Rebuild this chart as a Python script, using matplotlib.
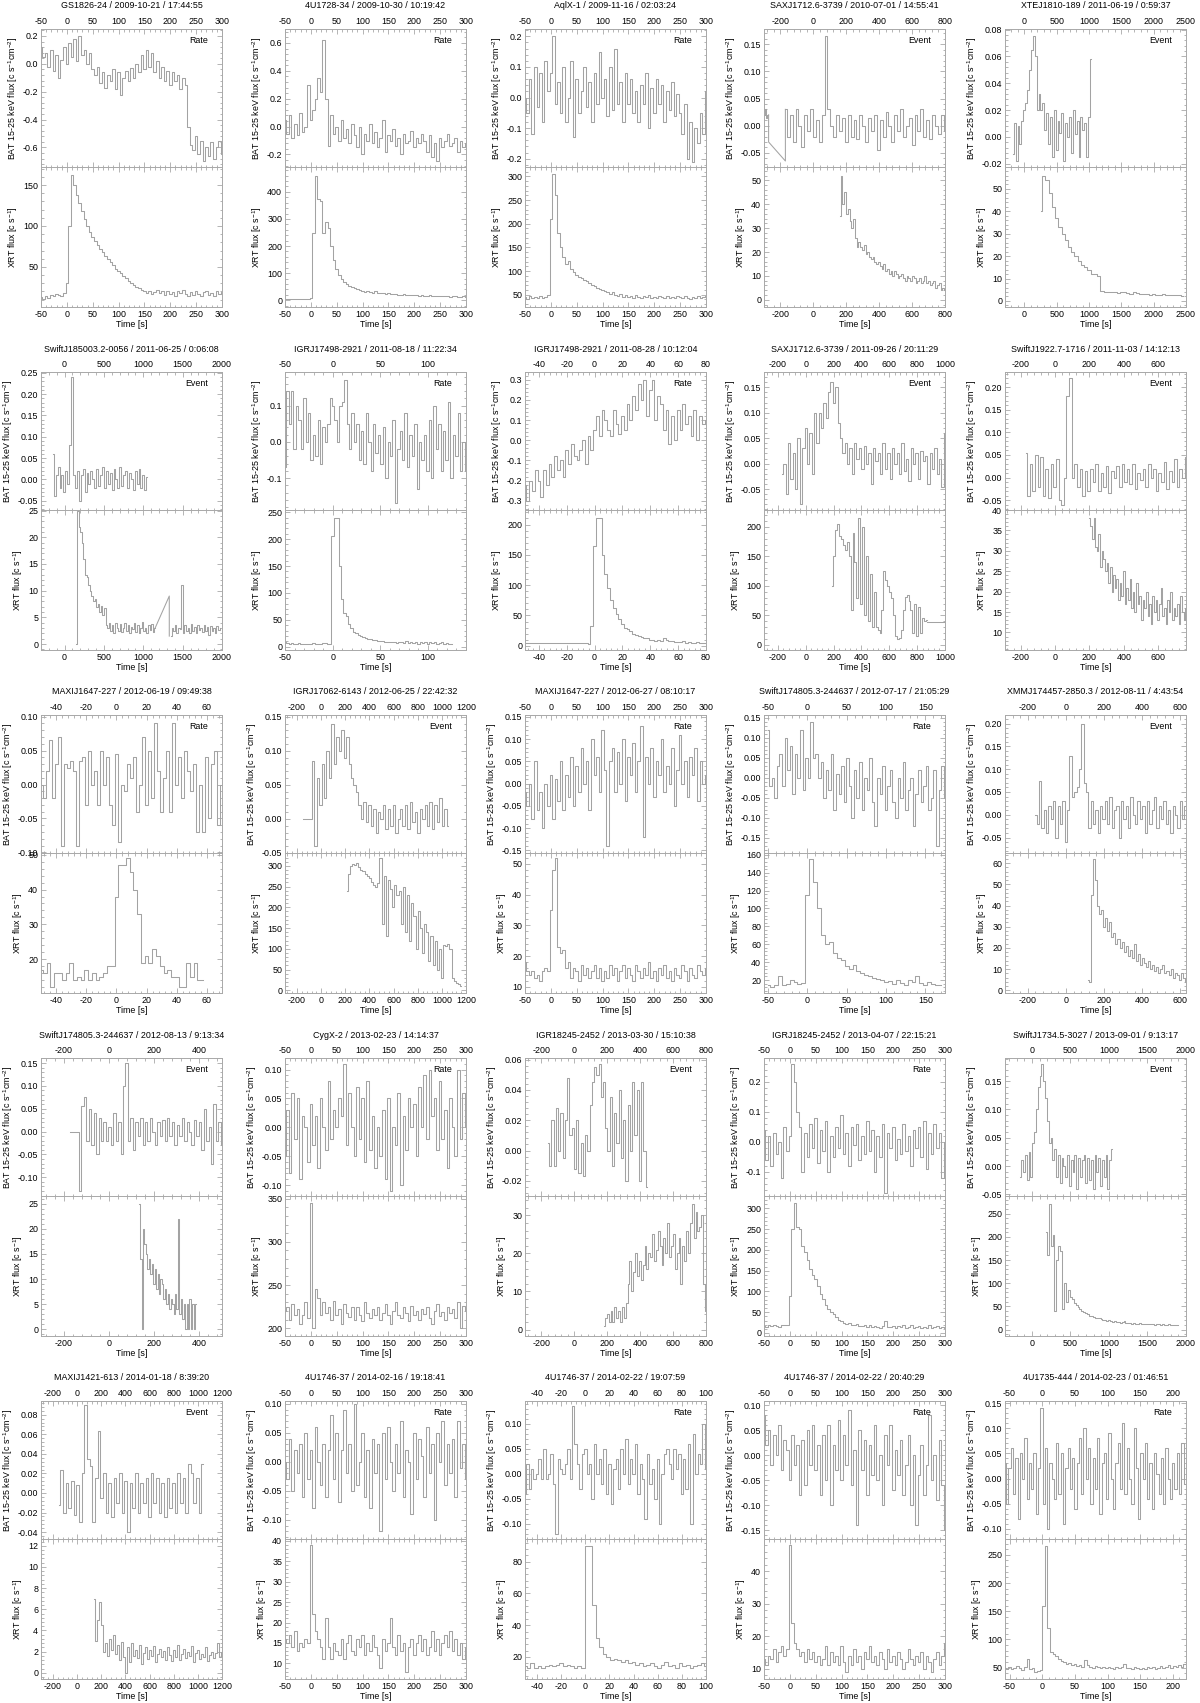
import numpy as np
import matplotlib
matplotlib.use('Agg')
import matplotlib.pyplot as plt
from matplotlib.ticker import MultipleLocator, AutoMinorLocator, FormatStrFormatter

plt.rcParams['font.family'] = ['Liberation Sans', 'DejaVu Sans']
plt.rcParams['font.size'] = 6.4
plt.rcParams['axes.unicode_minus'] = False
plt.rcParams['mathtext.fontset'] = 'custom'
plt.rcParams['mathtext.rm'] = 'Liberation Sans'
plt.rcParams['mathtext.it'] = 'Liberation Sans:italic'

######## DATOS #############################

# fila 1
p01_bat = [0.12,0.05,0.08,-0.02,0.1,-0.05,0.06,-0.1,0.03,0.12,0.0,0.15,0.05,0.18,0.02,0.2,0.06,0.1,0.0,0.08,
           -0.04,-0.08,-0.02,-0.14,-0.06,-0.17,-0.08,-0.12,-0.04,-0.18,-0.06,-0.22,-0.1,-0.05,-0.12,-0.03,-0.1,0.0,-0.06,0.06,
           -0.04,0.1,-0.02,0.08,-0.06,0.02,-0.1,-0.02,-0.12,-0.05,-0.15,-0.06,-0.12,-0.08,-0.18,-0.1,-0.15,
           -0.45,-0.58,-0.62,-0.52,-0.65,-0.55,-0.7,-0.6,-0.66,-0.56,-0.68,-0.6,-0.55,-0.65]
p01_xrt = [13,11,14,12,16,15,17,16,15,18,30,100,162,150,138,128,118,108,100,92,86,82,77,72,68,63,60,56,52,48,
           45,42,39,36,33,30,28,26,24,22,20,18,21,17,19,22,18,20,16,21,17,19,15,20,18,22,17,14,19,16,
           20,17,15,19,21,16,18,14,20,17,19]
p02_bat = [0.05,-0.05,0.08,-0.08,0.02,-0.06,0.1,-0.04,0.0,0.3,0.05,0.12,0.2,0.35,0.25,0.62,0.2,-0.14,0.08,-0.05,
           0.0,-0.1,0.05,-0.08,-0.02,-0.12,0.02,-0.06,-0.15,0.0,-0.2,-0.05,-0.1,0.02,-0.12,-0.04,-0.15,-0.08,0.05,-0.18,
           -0.06,-0.1,-0.02,-0.14,-0.08,-0.2,-0.05,-0.12,-0.1,-0.03,-0.15,-0.08,-0.12,-0.05,-0.1,-0.18,-0.06,-0.22,-0.12,-0.25,
           -0.08,-0.15,-0.1,-0.05,-0.14,-0.12,-0.08,-0.18,-0.1,-0.15,-0.12]
p02_xrt = [5,5,6,5,5,5,6,5,5,6,8,250,460,375,365,250,290,265,200,150,115,92,78,68,60,52,48,44,40,38,
           35,32,34,30,28,33,27,26,25,24,26,23,22,24,21,20,22,19,20,18,19,18,17,18,16,17,18,15,16,17,
           15,16,14,15,13,16,14,13,12,14,13]
p03_bat = [0.0,-0.05,0.06,-0.12,0.1,-0.03,0.08,-0.08,0.12,0.02,0.08,0.2,-0.02,0.05,-0.05,0.1,-0.08,0.0,0.12,-0.13,
           0.06,-0.05,0.02,0.1,-0.03,0.05,-0.08,0.08,-0.02,0.15,0.0,0.06,-0.06,0.1,-0.04,0.16,-0.02,0.05,-0.08,0.08,
           -0.02,0.06,-0.05,0.02,-0.08,0.04,-0.02,0.08,-0.1,0.03,-0.05,0.06,-0.02,0.04,-0.08,0.02,-0.04,0.05,-0.06,0.01,
           -0.05,-0.12,-0.02,-0.2,-0.08,-0.21,-0.1,-0.15,-0.05,-0.12,0.02]
p03_xrt = [45,40,48,42,46,44,48,43,46,50,210,305,260,180,150,130,115,122,105,98,92,88,85,82,78,75,70,68,65,62,
           60,58,56,52,55,50,48,52,46,50,45,48,44,50,46,43,47,45,49,44,46,42,48,45,43,47,44,46,42,48,
           45,43,47,44,40,46,43,48,42,45,47]
p04_bat_pre = [0.02,0.03,0.015,0.02]
p04_bat_gap_t = [-272,-272,-170,-170]
p04_bat_gap_v = [0.02,-0.03,-0.065,0.03]
p04_bat = [0.03,-0.02,0.02,-0.03,0.03,0.0,-0.04,0.02,-0.01,0.03,-0.02,0.01,-0.03,0.02,0.165,0.03,0.0,-0.02,0.02,-0.01,
           0.015,-0.03,0.02,-0.02,0.01,-0.025,0.02,0.0,-0.03,0.015,-0.01,0.02,-0.045,0.01,-0.02,0.025,0.0,-0.03,0.02,-0.01,
           0.03,-0.02,0.0,0.015,-0.035,0.02,-0.01,0.03,-0.02,0.01,-0.025,0.02,0.0,-0.015,0.02,-0.01]
p04_xrt = [35,52,40,45,36,38,33,30,34,26,22,24,22,21,23,19,20,18,17,18,16,15,16,14,13,15,12,13,11,12,
           10,12,11,9,10,11,9,8,10,9,8,10,9,7,8,9,7,8,10,7,8,6,7,8,5,6,7,4,5,4]
p05_bat = [-0.013,0.01,-0.018,0.008,-0.005,0.012,0.02,0.025,0.035,0.05,0.065,0.075,0.06,0.02,0.032,0.02,0.025,0.005,0.018,-0.005,
           0.015,-0.015,0.02,-0.01,0.012,0.003,0.018,-0.018,0.01,0.0,0.015,-0.012,0.02,0.002,0.012,-0.015,0.015,0.005,0.01,-0.015,
           0.015,0.058]
p05_xrt = [40,56,54,48,42,37,33,30,27,24,22,20,18,16,15,14,12,12,11,4.5,4,4.2,3.8,4,3.5,3.8,4,3.5,3.2,3.8,
           3.4,3,3.3,3,2.8,3.1,2.8,2.6,2.9,2.5,2.7,2.8,2.5,2.6,2.4]

# fila 2
p06_bat = [0.06,-0.04,0.01,0.03,-0.02,0.01,-0.03,0.02,-0.01,0.08,0.24,0.01,-0.02,0.02,-0.05,0.01,0.025,-0.03,0.015,-0.01,
           0.02,0.0,-0.02,0.025,-0.015,0.01,0.03,-0.02,0.02,-0.01,0.015,-0.025,0.025,0.0,-0.02,0.03,-0.015,0.01,0.02,-0.02,
           0.015,0.0,-0.025,0.02,-0.01,0.025,-0.02,0.01,-0.025,0.005]
p06_xrt_a = [0,25,22,21,19,16,13,12.5,11,10,9,8,8.5,7,7.5,6,7.2,5.5,6.8,3.5,3,4,2.5,3.5,2,4,3,2.5,3.8,2.2,
             3,4,2.5,3.5,2,3.2,2.8,4,2.3,3.5,2,3,4.2,2.5,3,2,3.5,2.6,3.8,2.2,3]
p06_xrt_gap_t = [1150,1330,1330]
p06_xrt_gap_v = [3,9,1.5]
p06_xrt_b = [1.5,3,2.5,3.5,2,3,2.8,11,2,3.5,2.5,3,2,3.8,2.4,3.2,2,3.5,2.6,3,2.2,3.6,2.5,3.2,1.8,3.4,2.5,3,2,3.3,2.6,3]
p07_bat = [-0.07,0.14,0.05,0.14,-0.02,0.1,0.06,-0.02,0.12,0.0,0.08,-0.05,0.02,-0.04,0.06,-0.06,0.04,0.0,0.05,0.12,
           0.1,0.06,0.0,0.1,0.11,0.17,0.05,-0.02,0.08,0.0,0.05,-0.05,0.03,-0.06,0.08,0.0,-0.08,0.05,-0.03,0.02,
           -0.06,0.04,-0.1,0.0,-0.04,0.06,-0.17,-0.02,0.03,-0.05,0.08,-0.07,0.02,-0.04,0.05,-0.13,0.0,-0.05,0.02,-0.08,
           0.06,-0.1,0.1,-0.02,0.05,-0.08,0.03,-0.05,0.11,-0.1,0.02,-0.04,0.08,-0.08,0.0,-0.08]
p07_xrt = [8,7,5,7,6,6,7,6,6,5,6,6,7,6,6,6,7,7,6,6,205,240,240,150,88,62,58,42,35,28,
           25,22,20,18,16,15,14,12,12,11,10,10,9,9,8,9,8,7,9,8,7,10,7,8,7,9,6,8,7,9,
           6,8,7,9,6,7,8,5,7,6,6]
p08_bat = [-0.22,-0.3,-0.2,-0.25,-0.15,-0.2,-0.28,-0.15,-0.22,-0.12,-0.18,-0.08,-0.15,-0.1,-0.18,-0.05,-0.12,-0.02,-0.08,-0.1,
           -0.05,0.0,-0.12,0.02,-0.05,0.05,0.12,0.02,0.15,0.1,0.05,0.02,0.15,0.08,0.03,0.12,0.05,0.18,0.1,0.22,
           0.15,0.28,0.2,0.3,0.12,0.25,0.3,0.1,0.22,0.18,0.05,0.15,-0.02,0.12,0.0,0.15,0.05,0.18,0.08,0.12,
           0.02,0.15,0.0,0.12,0.08,0.1]
p08_xrt = [5,4,5,4,4,5,4,4,4,5,4,4,5,4,5,4,4,5,4,5,5,4,5,3,32,165,210,210,150,118,
           95,75,62,52,44,36,30,27,24,20,18,16,14,12,12,10,10,8,9,8,12,10,8,8,7,7,
           6,8,5,6,4,5,6,5,4,5]
p09_bat = [-0.02,0.0,-0.06,0.04,-0.03,0.02,-0.05,0.05,-0.08,0.03,0.07,0.0,0.06,-0.02,0.1,0.04,0.1,0.07,0.12,0.09,
           0.14,0.16,0.12,0.15,0.08,0.05,0.02,0.04,0.0,0.03,-0.02,0.04,0.01,0.03,-0.01,0.035,0.0,0.02,-0.04,0.03,
           0.005,0.02,-0.02,0.04,-0.01,0.02,-0.03,0.03,0.0,0.02,-0.02,0.04,-0.015,0.01,-0.035,0.03,0.0,0.02,-0.03,0.025,
           0.005,0.015,-0.04,0.02,-0.01,0.03,-0.02,0.01,-0.045,0.06]
p09_xrt = [100,150,195,205,185,180,170,160,175,150,60,190,140,80,215,70,200,50,150,40,120,30,90,30,25,20,60,125,110,100,
           90,80,50,15,10,12,25,60,82,85,75,60,20,70,15,65,20,45,40,42]
p09_xrt_gap_t = [870,1000]
p09_xrt_gap_v = [38,38]
p10_bat = [0.055,-0.04,0.03,-0.03,0.05,-0.02,0.045,-0.04,0.02,-0.045,0.03,-0.02,0.04,-0.05,-0.06,0.0,0.18,0.22,0.0,0.03,
           -0.02,0.02,-0.04,0.015,-0.03,0.02,-0.01,0.03,-0.03,0.01,-0.02,0.025,-0.035,0.015,0.0,0.025,-0.02,0.03,-0.01,0.02,
           -0.015,0.03,-0.025,0.01,-0.005,0.02,-0.02,0.03,0.0,0.02,-0.03,0.01,-0.01,0.035,-0.025,0.015,-0.01,0.04,-0.02,0.02,
           0.0,0.045]
p10_xrt = [38,36,33,38,31,30,34,26,30,28,25,27,22,26,20,24,21,23,18,22,19,25,17,21,18,23,16,20,15,22,
           17,19,13,18,16,20,14,17,12,19,15,18,13,17,21,14,16,12,18,15,20,13,16,14,17,12,19,15,13,16]

# fila 3
p11_bat = [0.0,-0.02,0.02,0.065,-0.02,0.03,0.07,-0.09,0.03,0.025,0.035,0.02,-0.09,0.035,0.04,-0.03,0.05,0.0,0.02,-0.03,
           0.05,0.0,0.04,-0.03,-0.06,0.045,-0.085,0.0,-0.01,0.03,0.01,0.04,-0.04,0.0,0.07,-0.03,0.05,-0.02,0.09,0.02,
           -0.04,0.01,0.05,-0.04,0.09,0.0,0.04,-0.02,0.05,0.02,-0.01,0.03,-0.07,0.0,-0.07,0.04,-0.05,0.03,0.05,-0.06,0.0]
p11_xrt = [17,16,19,12,16,16,14,16,19,14,15,14,17,14,16,14,15,16,18,18,38,47,47,49,45,40,33,19,21,19,
           23,21,18,16,17,15,15,12,12,19,15,19,14,14]
p12_bat = [0.0,0.0,0.0,0.0,0.085,-0.04,0.06,0.02,0.08,0.03,0.1,0.06,0.14,0.08,0.12,0.1,0.13,0.09,0.12,0.08,
           0.06,0.05,0.04,0.02,0.0,0.025,-0.005,0.02,-0.01,0.015,-0.02,0.01,0.0,0.02,-0.015,0.015,-0.01,0.02,-0.02,0.0,
           0.015,-0.01,0.02,-0.015,0.025,-0.005,0.01,-0.02,0.015,0.0,0.02,-0.01,0.025,-0.015,0.02,-0.005,0.03,-0.01,0.015,-0.01]
p12_xrt = [240,280,300,305,302,308,298,290,288,280,275,270,262,255,250,258,320,160,275,130,265,245,200,255,230,240,160,250,140,230,
           120,210,180,100,190,150,90,160,140,70,130,60,120,50,100,30,110,108,112,100,30,22,18,14,10]
p13_bat = [-0.02,-0.05,0.0,-0.08,0.05,-0.06,-0.02,-0.1,0.0,-0.05,0.02,-0.08,0.01,-0.04,0.05,-0.06,0.02,-0.03,0.06,-0.05,
           0.04,-0.02,0.08,0.0,0.05,-0.06,0.1,0.02,0.06,-0.02,0.12,0.03,-0.14,0.05,0.08,-0.02,0.07,0.0,0.1,-0.04,
           0.06,0.02,0.09,-0.02,0.05,0.13,-0.12,0.06,0.0,0.08,-0.03,0.05,0.02,0.1,-0.02,0.04,0.0,0.08,-0.05,0.03,
           0.11,0.0,0.05,-0.03,0.06,0.02,0.08,-0.04,0.05,0.0,0.02]
p13_xrt = [18,15,14,15,13,14,12,15,16,15,35,48,52,23,21,22,16,18,13,16,15,12,17,14,16,13,15,17,13,16,
           12,15,13,17,14,16,12,15,17,13,16,14,12,17,15,13,16,14,18,13,15,12,16,14,17,13,15,12,16,14,
           13,17,15,12,16,14,13,17,15,14,16]
p14_bat = [0.12,-0.02,0.0,-0.05,0.03,0.06,-0.02,0.1,0.02,0.08,-0.04,0.06,0.0,0.12,-0.03,0.05,0.0,0.14,0.05,0.06,
           0.0,0.04,-0.05,0.02,-0.03,0.06,-0.08,0.01,-0.04,0.03,-0.06,0.05,-0.02,-0.1,0.02,-0.05,0.04,-0.08,0.0,-0.03,
           0.05,-0.06,-0.12,0.0,-0.04,0.03,-0.08,-0.02,0.02,-0.06,-0.1,0.0,-0.05,0.04,-0.08,-0.03,0.0,-0.12,-0.04,0.02,
           -0.06,-0.02,0.03,-0.08,-0.05,0.02,-0.17,-0.03,0.03,-0.05]
p14_xrt = [15,12,14,25,15,16,20,18,16,17,115,155,130,100,70,60,63,50,45,42,36,32,37,30,28,26,24,22,21,20,
           18,19,16,20,17,15,20,18,25,17,15,18,16,14,15]
p15_bat = [0.0,-0.02,0.075,-0.03,0.01,-0.04,0.02,-0.01,0.03,-0.05,0.02,-0.02,0.03,-0.06,0.01,0.13,0.04,0.05,0.06,0.1,
           0.2,0.07,0.05,-0.03,0.03,-0.02,0.01,-0.04,0.02,-0.01,0.03,-0.02,0.04,-0.03,0.01,0.02,-0.05,0.03,-0.01,0.02,
           -0.03,0.04,0.0,-0.02,0.03,-0.01,0.02,-0.04,0.03,-0.02,0.01,0.04,-0.03,0.02,-0.01,0.03,-0.02,0.01,-0.04,0.02,
           0.0,-0.03,0.03,-0.01,0.02,-0.045]
p15_xrt = [5,4,45,62,52,40,36,38,30,34,28,32,25,27,22,24,20,23,18,21,16,19,15,22,14,17,12,15,13,11,
           14,10,12,9,11,8,10,12,8,9,7,10,6,8,7,5,8,6,4,5]

# fila 4
p16_bat = [0.0,0.0,0.0,0.0,-0.13,0.055,0.075,-0.02,0.05,-0.03,0.04,-0.05,0.03,-0.02,0.02,-0.02,0.01,-0.03,0.04,-0.02,
           0.02,-0.05,0.1,0.15,-0.02,0.03,-0.04,0.02,-0.01,0.03,-0.03,0.02,-0.02,0.03,0.0,-0.03,0.02,-0.01,0.025,-0.02,
           0.03,-0.01,0.02,-0.03,0.015,-0.01,0.03,-0.02,0.02,0.0,-0.03,0.025,-0.01,0.02,-0.04,0.05,-0.02,0.01,-0.07,0.06,
           -0.02,0.02,-0.03]
p16_xrt = [25,14,0,20,17,15,12,14,11,13,9,12,8,11,7,10,9,6,8,5,7,4,6,5,3,7,4,22,3,6,2,5,0,5,0,6,0,5,0,5]
p17_bat = [-0.05,0.03,-0.08,0.06,-0.02,0.05,-0.09,0.02,0.0,-0.06,0.04,-0.03,0.02,-0.07,0.05,0.0,-0.04,0.08,-0.02,0.03,
           0.0,0.05,0.02,0.11,-0.03,0.06,0.0,-0.05,0.07,-0.02,0.05,-0.06,0.08,-0.04,0.02,-0.07,0.0,-0.05,0.03,-0.09,
           0.05,-0.11,0.0,-0.03,0.06,-0.1,0.02,-0.04,0.05,0.0,0.04,-0.05,0.07,0.0,0.09,-0.02,0.1,0.02,0.05,-0.04,
           0.08,-0.02,0.03,-0.07,0.05,0.0,-0.05,0.1,-0.02,0.06,0.0]
p17_xrt = [220,225,210,228,215,222,205,215,230,212,345,200,245,235,215,230,218,225,210,232,215,222,205,228,218,213,224,210,225,215,
           208,230,218,212,222,215,225,210,218,228,215,205,220,230,215,212,224,218,208,226,215,220,210,222,216,225,212,205,220,228,
           214,219,210,225,218,222,212,230,200,226,220]
p18_bat = [0.005,-0.01,0.02,-0.01,0.028,0.0,0.025,-0.005,0.02,0.048,0.01,0.015,-0.012,0.02,-0.015,0.005,-0.017,0.01,0.0,0.03,
           0.045,0.055,0.05,0.057,0.035,0.045,0.015,0.0,0.035,-0.01,0.025,0.005,0.04,-0.005,0.02,-0.02,0.03,0.0,0.045,0.01,
           0.04,-0.02,0.045,0.0,-0.024]
p18_xrt = [1,3,4,2,5,2,6,3,5,2,6,3,7,12,18,10,15,20,14,18,13,17,22,16,20,19,25,18,21,26,
           22,17,24,20,28,19,22,25,16,20,24,12,22,18,26,20,28,33,24,31,26,27,30,12,5]
p19_bat = [0.04,-0.06,0.02,-0.08,0.03,-0.04,0.0,-0.12,0.05,-0.03,0.02,0.26,0.2,0.1,0.05,-0.1,0.03,-0.05,0.06,-0.02,
           0.08,-0.07,0.04,-0.03,0.07,-0.1,0.02,-0.05,0.05,-0.02,0.09,-0.04,0.03,-0.08,0.05,-0.01,0.06,-0.06,0.02,-0.04,
           0.07,-0.03,0.04,-0.1,0.02,-0.05,0.06,-0.17,0.03,-0.02,0.05,-0.06,0.01,-0.04,0.06,-0.03,0.02,-0.08,0.04,-0.02,
           0.05,-0.05,0.07,-0.09,0.03,-0.04,0.06,-0.02,0.03,-0.12,0.0]
p19_xrt = [17,15,18,16,20,17,15,19,18,20,90,250,312,255,250,210,195,175,155,140,130,112,95,82,68,58,50,45,38,32,
           28,25,22,24,20,18,22,17,16,20,15,18,14,17,15,13,16,28,14,15,17,12,16,14,18,13,15,20,12,14,
           17,11,15,13,18,12,14,16,11,15,13]
p20_bat = [-0.02,0.01,-0.01,0.02,-0.025,0.025,-0.02,0.04,0.06,0.1,0.14,0.16,0.18,0.15,0.12,0.08,0.04,0.05,0.01,0.03,
           -0.02,0.02,-0.03,0.015,0.0,-0.02,0.02,-0.035,0.01,-0.01,0.02,-0.04,0.015,-0.02,0.01,0.02,-0.03,0.015,-0.025,0.01,
           -0.04,0.02,-0.01,0.015,-0.035,0.01,-0.02,0.02,-0.04,0.01,0.03]
p20_xrt = [210,160,270,180,205,40,150,180,170,45,100,60,85,70,65,58,52,48,44,40,37,35,33,30,29,27,26,25,24,22,
           21,20,19,20,18,17,19,16,17,15,16,18,14,15,14,13,15,13,12,14,12,13,11,12,13,11,12,10,11,12,
           10,11,10,9,11,10,10,9,10,10]

# fila 5
p21_bat = [-0.012,0.023,-0.02,0.01,-0.015,0.012,-0.022,0.008,-0.03,0.02,0.09,0.035,0.028,-0.03,0.015,0.063,-0.005,0.02,-0.02,0.01,
           -0.025,0.015,-0.01,0.02,-0.02,0.012,-0.04,0.01,-0.015,0.02,-0.02,0.01,-0.01,0.015,-0.025,0.02,-0.01,0.015,-0.02,0.01,
           -0.025,0.015,-0.015,0.01,-0.02,0.02,-0.01,0.015,-0.02,0.03,0.02,-0.01,0.015,-0.02,0.03]
p21_xrt = [7,3,5,6.7,4.5,2,2.8,1.6,3.2,2.2,3.6,1.8,2.6,1.2,2.9,1.5,0,2.4,1,2.8,1.6,2.2,1.4,2.6,0.8,1.9,2.4,1.3,2.2,1.6,
           2.5,1,1.8,2.3,1.5,2.1,1.2,2.4,1.7,1.1,2.2,1.5,2.6,1.2,1.8,2.3,1.4,2,1.6,2.5,1,1.9,2.2,1.3,1.8,1.5,2.4,1.1,1.7,2,
           1.4,1.9,2.8,1.5,2]
p22_bat = [0.0,-0.03,0.04,-0.05,0.02,-0.02,0.03,-0.06,0.05,-0.03,0.02,-0.08,0.06,0.0,-0.04,0.03,-0.06,0.02,0.08,-0.03,
           0.05,-0.07,0.02,0.09,-0.02,0.03,-0.05,0.1,-0.04,0.0,0.05,-0.06,0.02,-0.08,0.04,-0.02,0.03,-0.12,0.05,-0.03,
           0.06,0.0,-0.05,0.03,-0.02,0.07,-0.06,0.02,0.0,-0.09,0.05,-0.03,0.04,0.01,-0.06,0.06,-0.02,0.03,-0.1,0.05,
           0.0,0.07,-0.04,0.03,-0.02,0.04,-0.06,0.07,-0.01,0.03,-0.03]
p22_xrt = [16,15,17,14,18,13,15,14,16,15,39,22,18,16,14,11,21,14,11,15,13,12,16,11,15,17,13,12,16,14,
           17,12,15,13,17,14,12,9,16,13,15,21,14,12,17,13,15,8,14,16,12,15,17,13,16,12,14,18,13,16,
           12,15,17,14,18,13,16,12,15,11,14]
p23_bat = [-0.04,0.02,-0.03,0.01,-0.01,0.0,0.03,-0.01,0.05,-0.01,0.0,0.04,-0.02,-0.12,0.03,0.01,0.0,0.02,0.05,-0.01,
           0.135,0.06,0.02,-0.03,0.04,0.05,0.0,0.02,-0.05,0.06,0.0,0.03,-0.02,0.05,-0.04,0.02,-0.06,0.01,0.03,-0.03,
           0.05,0.0,0.07,-0.02,0.03,0.0,0.06,-0.04,0.02,-0.01,-0.09,0.04,-0.02,0.01,-0.05,0.03,-0.1,0.0,0.04,0.05,
           0.02,-0.01,0.05,0.01,0.04,-0.04,0.03,-0.03,0.06,-0.1,0.08,0.0,0.04,0.02,0.1,0.01]
p23_xrt = [14,13,16,13,14,13,14,15,14,15,16,14,15,14,13,14,13,90,90,53,32,26,22,20,18,19,18,17,18,16,
           17,15,16,14,15,16,14,13,15,17,14,15,13,16,14,15,13,14,15,16,14]
p24_bat = [0.08,0.02,0.05,-0.02,0.04,0.0,0.06,-0.03,0.03,0.01,-0.05,0.04,-0.02,0.02,-0.08,0.03,-0.06,0.05,-0.02,0.06,
           -0.03,0.02,-0.08,0.04,-0.05,0.06,-0.1,0.02,-0.03,0.07,-0.05,0.04,-0.02,0.09,-0.06,0.01,-0.14,0.05,-0.03,0.03,
           -0.08,0.02,-0.04,0.06,-0.05,0.0,-0.1,0.04,-0.02,0.06,-0.07,0.01,-0.04,0.03,-0.08,-0.02,0.04,-0.1,0.0,-0.14,
           -0.04,0.02,-0.08,-0.02,0.08,-0.05,0.0,-0.09,0.03,-0.06,-0.15]
p24_xrt = [13,11,14,13,16,12,15,17,14,16,48,24,18,16,14,15,12,16,13,15,12,14,11,13,17,11,15,12,14,11,
           17,12,9,14,11,16,12,14,10,15,13,17,12,14,11,15,13,10,16,12,14,11,15,13,10,12,16,13,11,14,
           12,15,10,14,12,9,13,15,11,14,18]
p25_bat = [0.03,-0.05,0.02,0.06,-0.03,0.04,-0.08,0.05,0.0,0.08,-0.04,0.03,-0.02,0.05,-0.07,0.02,0.14,-0.05,0.06,-0.1,
           0.03,0.0,-0.04,0.07,-0.03,0.05,-0.09,0.02,0.06,-0.02,0.04,-0.06,0.03,0.08,-0.03,0.1,0.0,0.06,-0.05,0.04,
           -0.02,0.08,-0.07,0.03,0.05,-0.04,0.09,0.0,-0.06,0.03,0.07,-0.02,0.11,-0.03,0.06,0.0,-0.05,0.1,0.02,-0.08,
           0.05,0.0,0.07,-0.04,0.03,-0.06,0.05,0.01,-0.03,0.04,-0.05,0.06,0.0,-0.04,0.03,-0.02,0.05,-0.03,0.07,-0.01]
p25_xrt = [50,48,52,47,50,53,49,46,52,65,48,50,42,44,46,160,265,120,78,74,70,66,62,60,57,58,55,56,53,55,
           52,64,54,52,50,53,51,50,52,49,51,50,48,52,49,51,56,49,50,48,51,49,47,50,48,51,49,52,48,50,
           53,49,51,54,50,53,51,55,52,57]

# intervalos de tiempo de cada serie (inicio, fin) en s
bat_spans = [(-50,300),(-50,300),(-50,300),(-170,800),(-180,1030),
             (-150,1050),(-50,140),(-50,80),(-170,1000),(-170,760),
             (-50,70),(-150,1050),(-50,300),(-50,175),(-160,640),
             (-170,500),(-50,300),(-160,440),(-50,300),(-150,1040),
             (-150,1040),(-50,300),(-50,100),(-50,300),(-57,218)]
xrt_spans = [(-50,300),(-50,300),(-50,300),(160,800),(250,2450),
             (150,1150),(-50,125),(-50,80),(190,870),(200,760),
             (-50,57.5),(210,1160),(-50,300),(-50,170),(115,640),
             (135,385),(-50,300),(180,800),(-50,300),(180,1900),
             (140,1200),(-50,300),(-50,100),(-50,300),(-58,218)]

titles = ['GS1826-24 / 2009-10-21 / 17:44:55', '4U1728-34 / 2009-10-30 / 10:19:42',
          'AqlX-1 / 2009-11-16 / 02:03:24', 'SAXJ1712.6-3739 / 2010-07-01 / 14:55:41',
          'XTEJ1810-189 / 2011-06-19 / 0:59:37', 'SwiftJ185003.2-0056 / 2011-06-25 / 0:06:08',
          'IGRJ17498-2921 / 2011-08-18 / 11:22:34', 'IGRJ17498-2921 / 2011-08-28 / 10:12:04',
          'SAXJ1712.6-3739 / 2011-09-26 / 20:11:29', 'SwiftJ1922.7-1716 / 2011-11-03 / 14:12:13',
          'MAXIJ1647-227 / 2012-06-19 / 09:49:38', 'IGRJ17062-6143 / 2012-06-25 / 22:42:32',
          'MAXIJ1647-227 / 2012-06-27 / 08:10:17', 'SwiftJ174805.3-244637 / 2012-07-17 / 21:05:29',
          'XMMJ174457-2850.3 / 2012-08-11 / 4:43:54', 'SwiftJ174805.3-244637 / 2012-08-13 / 9:13:34',
          'CygX-2 / 2013-02-23 / 14:14:37', 'IGR18245-2452 / 2013-03-30 / 15:10:38',
          'IGRJ18245-2452 / 2013-04-07 / 22:15:21', 'SwiftJ1734.5-3027 / 2013-09-01 / 9:13:17',
          'MAXIJ1421-613 / 2014-01-18 / 8:39:20', '4U1746-37 / 2014-02-16 / 19:18:41',
          '4U1746-37 / 2014-02-22 / 19:07:59', '4U1746-37 / 2014-02-22 / 20:40:29',
          '4U1735-444 / 2014-02-23 / 01:46:51']
modes = ['Rate','Rate','Rate','Event','Event',
         'Event','Rate','Rate','Event','Event',
         'Rate','Event','Rate','Rate','Event',
         'Event','Rate','Event','Rate','Event',
         'Event','Rate','Rate','Rate','Rate']

# limites de los ejes
xlims = [(-50,300),(-50,300),(-50,300),(-300,800),(-300,2500),
         (-300,2000),(-50,140),(-50,80),(-300,1000),(-290,760),
         (-50,70),(-300,1200),(-50,300),(-55,175),(-320,630),
         (-300,500),(-50,300),(-300,800),(-50,300),(-350,2000),
         (-300,1200),(-50,300),(-50,100),(-50,300),(-57,220)]
bat_ylims = [(-0.74,0.25),(-0.29,0.70),(-0.227,0.224),(-0.076,0.178),(-0.0225,0.0805),
             (-0.072,0.252),(-0.188,0.193),(-0.346,0.338),(-0.091,0.18),(-0.072,0.234),
             (-0.101,0.1025),(-0.05,0.1525),(-0.156,0.154),(-0.1875,0.157),(-0.084,0.219),
             (-0.141,0.161),(-0.119,0.12),(-0.03,0.061),(-0.181,0.28),(-0.053,0.191),
             (-0.047,0.094),(-0.133,0.105),(-0.131,0.146),(-0.168,0.109),(-0.12,0.154)]
xrt_ylims = [(1,172),(-25,492),(24,320),(-3,55.6),(-2.7,59.8),
             (-1.1,25.1),(-6,254),(-7,224),(-8.6,228.6),(5.7,40),
             (10.3,50.5),(-6.5,331),(8,53.5),(5.5,162),(-1.3,64.8),
             (-1.3,26.5),(191,353),(-1.7,35.1),(-7.3,330),(-13.8,288),
             (-0.58,12.64),(6.2,40.4),(6.1,94.3),(6.8,49.9),(30,278)]
x_steps = [50,50,50,200,500, 500,50,20,200,200, 20,200,50,50,200,
           200,50,200,50,500, 200,50,20,50,50]
bat_steps = [0.2,0.2,0.1,0.05,0.02, 0.05,0.1,0.1,0.05,0.05, 0.05,0.05,0.05,0.05,0.05,
             0.05,0.05,0.02,0.1,0.05, 0.02,0.05,0.05,0.05,0.05]
xrt_steps = [50,100,50,10,10, 5,50,50,50,5, 10,50,10,20,10,
             5,50,10,50,50, 2,5,20,10,50]

bat_data = [p01_bat,p02_bat,p03_bat,p04_bat,p05_bat,p06_bat,p07_bat,p08_bat,p09_bat,p10_bat,
            p11_bat,p12_bat,p13_bat,p14_bat,p15_bat,p16_bat,p17_bat,p18_bat,p19_bat,p20_bat,
            p21_bat,p22_bat,p23_bat,p24_bat,p25_bat]
xrt_data = [p01_xrt,p02_xrt,p03_xrt,p04_xrt,p05_xrt,p06_xrt_a,p07_xrt,p08_xrt,p09_xrt,p10_xrt,
            p11_xrt,p12_xrt,p13_xrt,p14_xrt,p15_xrt,p16_xrt,p17_xrt,p18_xrt,p19_xrt,p20_xrt,
            p21_xrt,p22_xrt,p23_xrt,p24_xrt,p25_xrt]

###### FIGURA ######

W, H = 1200.0, 1703.0
fig = plt.figure(figsize=(12, 17.03), dpi=100)
col_x = [41, 285, 525, 764, 1005]
aw = 181
line_c = '#a3a3a3'
frame_c = '#a8a8a8'


def style(ax, xstep, ystep, fmt, top_labels):
    ax.xaxis.set_major_locator(MultipleLocator(xstep))
    ax.xaxis.set_minor_locator(AutoMinorLocator(5))
    ax.yaxis.set_major_locator(MultipleLocator(ystep))
    ax.yaxis.set_minor_locator(AutoMinorLocator(5))
    ax.yaxis.set_major_formatter(FormatStrFormatter(fmt))
    ax.tick_params(which='both', direction='in', top=True, right=True, color=frame_c, width=0.6)
    ax.tick_params(which='major', length=3.5, pad=2)
    ax.tick_params(which='minor', length=1.8)
    ax.tick_params(axis='x', labeltop=top_labels, labelbottom=not top_labels)
    for s in ax.spines.values():
        s.set_color(frame_c)
        s.set_linewidth(0.7)


def steps(ax, vals, span):
    t = np.linspace(span[0], span[1], len(vals))
    ax.plot(t, vals, drawstyle='steps-mid', color=line_c, lw=0.75)


for k in range(25):
    r, c = divmod(k, 5)
    x0 = col_x[c]
    top = 29 + 343 * r
    mid = 167 + 343 * r
    bot = 307 + 343 * r

    ax1 = fig.add_axes([x0 / W, 1 - mid / H, aw / W, (mid - top) / H])
    ax2 = fig.add_axes([x0 / W, 1 - bot / H, aw / W, (bot - mid) / H])

    # BAT
    steps(ax1, bat_data[k], bat_spans[k])
    # XRT
    steps(ax2, xrt_data[k], xrt_spans[k])

    # huecos y tramos extra
    if k == 3:
        steps(ax1, p04_bat_pre, (-300, -275))
        ax1.plot(p04_bat_gap_t, p04_bat_gap_v, color=line_c, lw=0.75)
    if k == 5:
        ax2.plot(p06_xrt_gap_t, p06_xrt_gap_v, color=line_c, lw=0.75)
        steps(ax2, p06_xrt_b, (1350, 1980))
    if k == 8:
        ax2.plot(p09_xrt_gap_t, p09_xrt_gap_v, color=line_c, lw=0.75)

    ax1.set_xlim(xlims[k])
    ax2.set_xlim(xlims[k])
    ax1.set_ylim(bat_ylims[k])
    ax2.set_ylim(xrt_ylims[k])

    bfmt = '%.1f' if bat_steps[k] >= 0.1 else '%.2f'
    style(ax1, x_steps[k], bat_steps[k], bfmt, True)
    style(ax2, x_steps[k], xrt_steps[k], '%d', False)

    ax1.set_ylabel('BAT 15-25 keV flux [c s$^{-1}$cm$^{-2}$]', labelpad=2)
    ax2.set_ylabel('XRT flux [c s$^{-1}$]', labelpad=2)
    ax2.set_xlabel('Time [s]', labelpad=1)

    ax1.text(0.925, 0.915, modes[k], ha='right', va='center', transform=ax1.transAxes)
    fig.text((x0 + aw / 2) / W, 1 - (top - 23) / H, titles[k], ha='center', va='center')

fig.savefig('out.png', dpi=100)
